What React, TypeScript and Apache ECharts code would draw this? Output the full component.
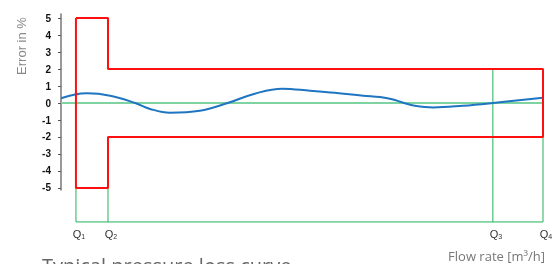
import React, { useEffect, useRef } from "react";
import * as echarts from "echarts";

// Flow-rate markers (x axis, 0..100 relative scale)
const qNames = ["1", "2", "3", "4"];
const qValues = [3.1, 9.75, 89.6, 100];

// Y axis ticks
const yTicks = [-5, -4, -3, -2, -1, 0, 1, 2, 3, 4, 5];

// Error curve (x, error %)
const curveX = [0, 2.9, 5.4, 10.2, 15.4, 18.5, 22.6, 28.8, 34.6, 40.2, 45.9, 51.7, 56.8, 62.7, 66.2, 68.7, 71.0, 73.4, 77.2, 83.4, 89.6, 100];
const curveY = [0.28, 0.5, 0.57, 0.43, 0.0, -0.35, -0.57, -0.46, 0.0, 0.55, 0.84, 0.72, 0.6, 0.43, 0.35, 0.22, 0.02, -0.16, -0.26, -0.16, 0.0, 0.31];

// Error limits
const upperStart = 5;
const upperLimit = 2;
const lowerStart = -5;
const lowerLimit = -2;
const baseLevel = -7;

export default function App() {
  const ref = useRef<HTMLDivElement>(null);
  useEffect(() => {
    if (!ref.current) return;
    const chart = echarts.init(ref.current, null, { renderer: "svg" });
    const [q1, q2, q3, q4] = qValues;
    const redPoly = [
      [q1, upperStart], [q2, upperStart], [q2, upperLimit], [q4, upperLimit],
      [q4, lowerLimit], [q2, lowerLimit], [q2, lowerStart], [q1, lowerStart], [q1, upperStart],
    ];
    const greenBase = [[q1, lowerStart], [q1, baseLevel], [q4, baseLevel], [q4, lowerLimit]];
    const greenQ2 = [[q2, lowerStart], [q2, baseLevel]];
    const greenQ3 = [[q3, upperLimit], [q3, baseLevel]];
    const zeroLine = [[0, 0], [q4, 0]];
    const curve = curveX.map((x, i) => [x, curveY[i]]);
    const lineBase = {
      type: "line" as const,
      symbol: "none",
      silent: true,
      clip: false,
      animation: false,
    };
    chart.setOption({
      animation: false,
      grid: { left: 61, top: 14, width: 482, height: 176, containLabel: false },
      xAxis: {
        type: "value",
        min: 0,
        max: 100,
        axisLine: { show: false },
        axisTick: { show: false },
        splitLine: { show: false },
        axisLabel: {
          customValues: qValues,
          margin: 37,
          formatter: (v: number) => {
            const i = qValues.indexOf(v);
            return i < 0 ? "" : `{q|Q}{s|${qNames[i]}}`;
          },
          rich: {
            q: { fontFamily: "Liberation Sans, Arial", fontSize: 11, color: "#333", padding: [0, 0, 0, 6] },
            s: { fontFamily: "Liberation Sans, Arial", fontSize: 7, color: "#333", padding: [6, 0, 0, 0] },
          },
        },
      },
      yAxis: {
        type: "value",
        min: -5.12,
        max: 5.24,
        axisLine: { show: true, lineStyle: { color: "#777", width: 1.5 } },
        axisTick: { show: true, customValues: yTicks, length: 3, lineStyle: { color: "#555" } },
        splitLine: { show: false },
        axisLabel: {
          customValues: yTicks,
          margin: 10,
          fontFamily: "Liberation Sans, Arial",
          fontWeight: "bold",
          fontSize: 10,
          color: "#111",
        },
      },
      graphic: [
        {
          type: "text",
          x: 21,
          y: 46,
          rotation: Math.PI / 2,
          style: {
            text: "Error in %",
            fontFamily: "Liberation Sans, Arial",
            fontSize: 13,
            fill: "#8a8a8a",
            textAlign: "center",
            textVerticalAlign: "middle",
          },
        },
        {
          type: "text",
          x: 545,
          y: 256,
          style: {
            text: "Flow rate [m³/h]",
            fontFamily: "Open Sans",
            fontSize: 13,
            fill: "#777",
            textAlign: "right",
            textVerticalAlign: "middle",
          },
        },
        {
          type: "text",
          x: 42,
          y: 255,
          style: {
            text: "Typical pressure loss curve",
            fontFamily: "Open Sans",
            fontSize: 20,
            fill: "#666",
            textAlign: "left",
            textVerticalAlign: "top",
          },
        },
      ],
      series: [
        { ...lineBase, data: zeroLine, lineStyle: { color: "#7fd3a0", width: 2 } },
        { ...lineBase, data: greenBase, lineStyle: { color: "#22b35a", width: 1 } },
        { ...lineBase, data: greenQ2, lineStyle: { color: "#22b35a", width: 1 } },
        { ...lineBase, data: greenQ3, lineStyle: { color: "#22b35a", width: 1 } },
        { ...lineBase, data: curve, smooth: 0.4, lineStyle: { color: "#1f75c0", width: 2 } },
        { ...lineBase, data: redPoly, lineStyle: { color: "#ff1010", width: 2 } },
      ],
    });
    return () => chart.dispose();
  }, []);
  return <div ref={ref} style={{ position: "fixed", left: 0, top: 0, width: 556, height: 264 }} />;
}
